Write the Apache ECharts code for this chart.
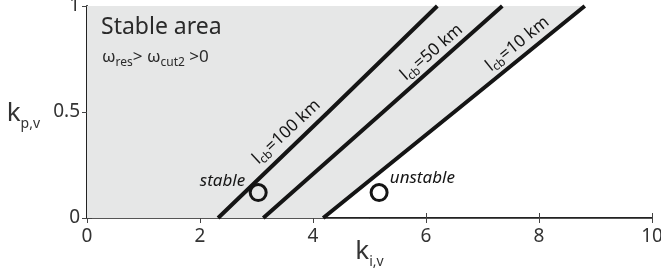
<!DOCTYPE html>
<html>
<head>
<meta charset="utf-8">
<script src="https://cdn.jsdelivr.net/npm/echarts@6/dist/echarts.min.js"></script>
<style>
    html, body { margin: 0; padding: 0; background: #fff; }
    #chart { width: 661px; height: 279px; }
</style>
</head>
<body>
<div id="chart"></div>
<script>
    // stability boundaries [k_i,v, k_p,v] for each cable length
    const lcb100 = [[2.32, 0], [4.27, 0.5], [6.2, 1]];
    const lcb50 = [[3.12, 0], [5.24, 0.5], [7.35, 1]];
    const lcb10 = [[4.18, 0], [6.5, 0.5], [8.81, 1]];
    // operating points
    const stablePt = [[3.03, 0.12]];
    const unstablePt = [[5.17, 0.12]];
    // axis ranges
    const xRange = [0, 10, 2];
    const yRange = [0, 1, 0.5];

    const font = 'Noto Sans';
    const ink = '#151515';
    const chart = echarts.init(document.getElementById('chart'));

    const lineSeries = (data) => ({
        type: 'line',
        data: data,
        showSymbol: false,
        silent: true,
        lineStyle: { color: ink, width: 4 },
        z: 3
    });
    const circle = (data) => ({
        type: 'scatter',
        data: data,
        symbol: 'circle',
        symbolSize: 16,
        silent: true,
        itemStyle: { color: 'rgba(0,0,0,0)', borderColor: ink, borderWidth: 3, opacity: 1 },
        z: 4
    });
    const axisBase = {
        type: 'value',
        splitLine: { show: false },
        axisTick: { inside: true, length: 5, lineStyle: { color: '#444' } }
    };
    const nameRich = {
        k: { fontSize: 26, color: '#333', fontFamily: font, lineHeight: 30, verticalAlign: 'bottom' },
        s: { fontSize: 14, color: '#333', fontFamily: font, lineHeight: 30, verticalAlign: 'bottom', padding: [0, 0, -4, 0] }
    };

    chart.setOption({
        animation: false,
        grid: { left: 87, right: 9, top: 6, bottom: 61, containLabel: false, outerBoundsMode: 'none' },
        xAxis: [
            Object.assign({}, axisBase, {
                min: xRange[0], max: xRange[1], interval: xRange[2],
                axisLine: { lineStyle: { color: '#222', width: 2 } },
                axisLabel: { fontSize: 19, color: '#333', margin: 9, fontFamily: font },
                name: '{k|k}{s|i,v}',
                nameLocation: 'middle',
                nameMoveOverlap: false,
                nameGap: 17,
                nameTextStyle: { rich: nameRich }
            }),
            Object.assign({}, axisBase, {
                position: 'top',
                min: xRange[0], max: xRange[1], interval: xRange[2],
                axisLine: { lineStyle: { color: '#555', width: 1 } },
                axisLabel: { show: false }
            })
        ],
        yAxis: [
            Object.assign({}, axisBase, {
                min: yRange[0], max: yRange[1], interval: yRange[2],
                axisLine: { lineStyle: { color: '#222', width: 2 } },
                axisLabel: { fontSize: 19, color: '#333', margin: 7, fontFamily: font },
                name: '{k|k}{s|p,v}',
                nameLocation: 'middle',
                nameRotate: 0,
                nameGap: 47,
                nameTextStyle: { rich: nameRich }
            }),
            Object.assign({}, axisBase, {
                position: 'right',
                min: yRange[0], max: yRange[1], interval: yRange[2],
                axisLine: { lineStyle: { color: '#555', width: 1 } },
                axisLabel: { show: false }
            })
        ],
        series: [
            {
                // stable region: everything to the left of the 10 km boundary
                type: 'line',
                data: [[xRange[0], 0]].concat(lcb10),
                showSymbol: false,
                silent: true,
                lineStyle: { width: 0, opacity: 0 },
                areaStyle: { origin: 'end', color: '#e6e7e7', opacity: 1 },
                z: 1
            },
            lineSeries(lcb100),
            lineSeries(lcb50),
            lineSeries(lcb10),
            circle(stablePt),
            circle(unstablePt)
        ]
    });

    // annotations, placed in data coordinates
    const px = (p) => chart.convertToPixel({ xAxisIndex: 0, yAxisIndex: 0 }, p);
    const lblRich = {
        t: { fontSize: 17, fill: ink, fontFamily: font, lineHeight: 22, verticalAlign: 'bottom' },
        s: { fontSize: 12, fill: ink, fontFamily: font, lineHeight: 22, verticalAlign: 'bottom', padding: [0, 0, -2, 0] }
    };
    const curveLabels = [
        { text: '100', at: [3.5, 0.415], angle: 43 },
        { text: '50', at: [6.07, 0.79], angle: 41 },
        { text: '10', at: [7.59, 0.83], angle: 39 }
    ];
    const graphics = curveLabels.map((c) => {
        const p = px(c.at);
        return {
            type: 'text',
            x: p[0], y: p[1],
            rotation: c.angle * Math.PI / 180,
            style: {
                text: '{t|l}{s|cb}{t|=' + c.text + ' km}',
                align: 'center', verticalAlign: 'middle',
                rich: lblRich
            },
            z: 10
        };
    });
    const sp = px([2.8, 0.175]);
    const up = px([5.36, 0.19]);
    graphics.push(
        { type: 'text', x: sp[0], y: sp[1], style: { text: 'stable', font: 'italic 17px ' + font, fill: ink, align: 'right', verticalAlign: 'middle' }, z: 10 },
        { type: 'text', x: up[0], y: up[1], style: { text: 'unstable', font: 'italic 17px ' + font, fill: ink, align: 'left', verticalAlign: 'middle' }, z: 10 },
        { type: 'text', left: 101, top: 16, style: { text: 'Stable area', font: '23px ' + font, fill: '#2a2a2a' }, z: 10 },
        {
            type: 'text', left: 102, top: 49,
            style: {
                text: '{w|ω}{s|res}{w|> ω}{s|cut2}{w| >0}',
                rich: {
                    w: { fontSize: 17, fill: '#2a2a2a', fontFamily: font, lineHeight: 22, verticalAlign: 'bottom' },
                    s: { fontSize: 12, fill: '#2a2a2a', fontFamily: font, lineHeight: 22, verticalAlign: 'bottom', padding: [0, 0, -3, 0] }
                }
            },
            z: 10
        }
    );
    chart.setOption({ graphic: graphics });
</script>
</body>
</html>
